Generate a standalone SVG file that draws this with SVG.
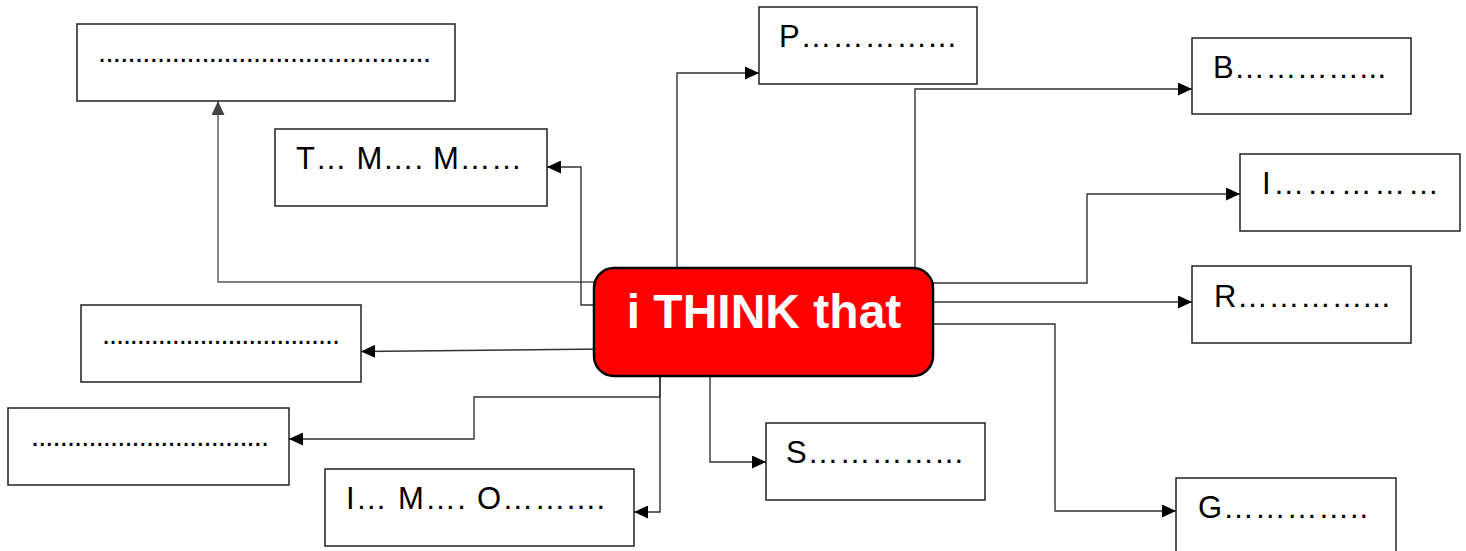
<svg xmlns="http://www.w3.org/2000/svg" width="1466" height="551" viewBox="0 0 1466 551">
<style>
  .box { fill: #ffffff; stroke: #222222; stroke-width: 1.5; }
  .lbl { font-family: "Liberation Sans", Arial, sans-serif; font-size: 31px; fill: #000000; }
  .dots { font-family: "Liberation Sans", Arial, sans-serif; font-size: 29px; fill: #000000; }
  .conn { fill: none; stroke: #333333; stroke-width: 1.4; }
  .gray { stroke: #555555; }
  .center { fill: #ff0000; stroke: #000000; stroke-width: 2.5; }
  .ctext { font-family: "Liberation Sans", Arial, sans-serif; font-size: 48px; font-weight: bold; fill: #ffffff; }
</style>
<defs>
  <marker id="arr" markerUnits="userSpaceOnUse" markerWidth="15" markerHeight="13" refX="14" refY="6.5" orient="auto">
    <path d="M0,0 L14,6.5 L0,13 z" fill="#000000"/>
  </marker>
  <marker id="arrg" markerUnits="userSpaceOnUse" markerWidth="15" markerHeight="13" refX="14" refY="6.5" orient="auto">
    <path d="M0,0 L14,6.5 L0,13 z" fill="#444444"/>
  </marker>
</defs>
<rect width="1466" height="551" fill="#ffffff"/>

<g id="connectors">
  <path class="conn gray" d="M610,282 H218 V101" marker-end="url(#arrg)"/>
  <path class="conn" d="M610,305 H581 V167 H547" marker-end="url(#arr)"/>
  <path class="conn" d="M677,285 V73 H759" marker-end="url(#arr)"/>
  <path class="conn" d="M915,285 V89 H1192" marker-end="url(#arr)"/>
  <path class="conn" d="M920,283 H1087 V194 H1240" marker-end="url(#arr)"/>
  <path class="conn" d="M920,302 H1192" marker-end="url(#arr)"/>
  <path class="conn" d="M920,324 H1055 V511 H1176" marker-end="url(#arr)"/>
  <path class="conn" d="M710,365 V462 H766" marker-end="url(#arr)"/>
  <path class="conn" d="M660,365 V397 H474 V439 H289" marker-end="url(#arr)"/>
  <path class="conn" d="M660,365 V512 H634" marker-end="url(#arr)"/>
  <path class="conn" d="M605,349 L361,351.5" marker-end="url(#arr)"/>
</g>

<g id="node-center">
  <rect class="center" x="594" y="268" width="339" height="108" rx="20" ry="20"/>
  <text class="ctext" x="764" y="328" text-anchor="middle">i THINK that</text>
</g>

<g id="node-topleft">
  <rect class="box" x="77" y="24" width="378" height="77"/>
  <text class="dots" x="98" y="62" textLength="333" lengthAdjust="spacing">.............................................</text>
</g>

<g id="node-tmm">
  <rect class="box" x="275" y="129" width="272" height="77"/>
  <text class="lbl" x="296" y="169" textLength="226" lengthAdjust="spacing">T… M…. M……</text>
</g>

<g id="node-p">
  <rect class="box" x="759" y="7" width="218" height="77"/>
  <text class="lbl" x="779" y="47" textLength="177" lengthAdjust="spacing">P…………...</text>
</g>

<g id="node-b">
  <rect class="box" x="1192" y="38" width="219" height="76"/>
  <text class="lbl" x="1213" y="78" textLength="173" lengthAdjust="spacing">B…………...</text>
</g>

<g id="node-i">
  <rect class="box" x="1240" y="154" width="220" height="77"/>
  <text class="lbl" x="1262" y="194" textLength="177" lengthAdjust="spacing">I……………</text>
</g>

<g id="node-r">
  <rect class="box" x="1192" y="266" width="219" height="77"/>
  <text class="lbl" x="1214" y="307" textLength="176" lengthAdjust="spacing">R…………...</text>
</g>

<g id="node-g">
  <rect class="box" x="1176" y="478" width="220" height="80"/>
  <text class="lbl" x="1198" y="518" textLength="170" lengthAdjust="spacing">G…………..</text>
</g>

<g id="node-s">
  <rect class="box" x="766" y="423" width="219" height="77"/>
  <text class="lbl" x="786" y="463" textLength="177" lengthAdjust="spacing">S…………...</text>
</g>

<g id="node-imo">
  <rect class="box" x="325" y="469" width="309" height="77"/>
  <text class="lbl" x="346" y="509" textLength="259" lengthAdjust="spacing">I… M…. O……....</text>
</g>

<g id="node-midleft">
  <rect class="box" x="81" y="305" width="280" height="77"/>
  <text class="dots" x="102" y="344" textLength="238" lengthAdjust="spacing">..................................</text>
</g>

<g id="node-lowleft">
  <rect class="box" x="8" y="408" width="281" height="77"/>
  <text class="dots" x="31" y="446" textLength="238" lengthAdjust="spacing">.................................</text>
</g>
</svg>
